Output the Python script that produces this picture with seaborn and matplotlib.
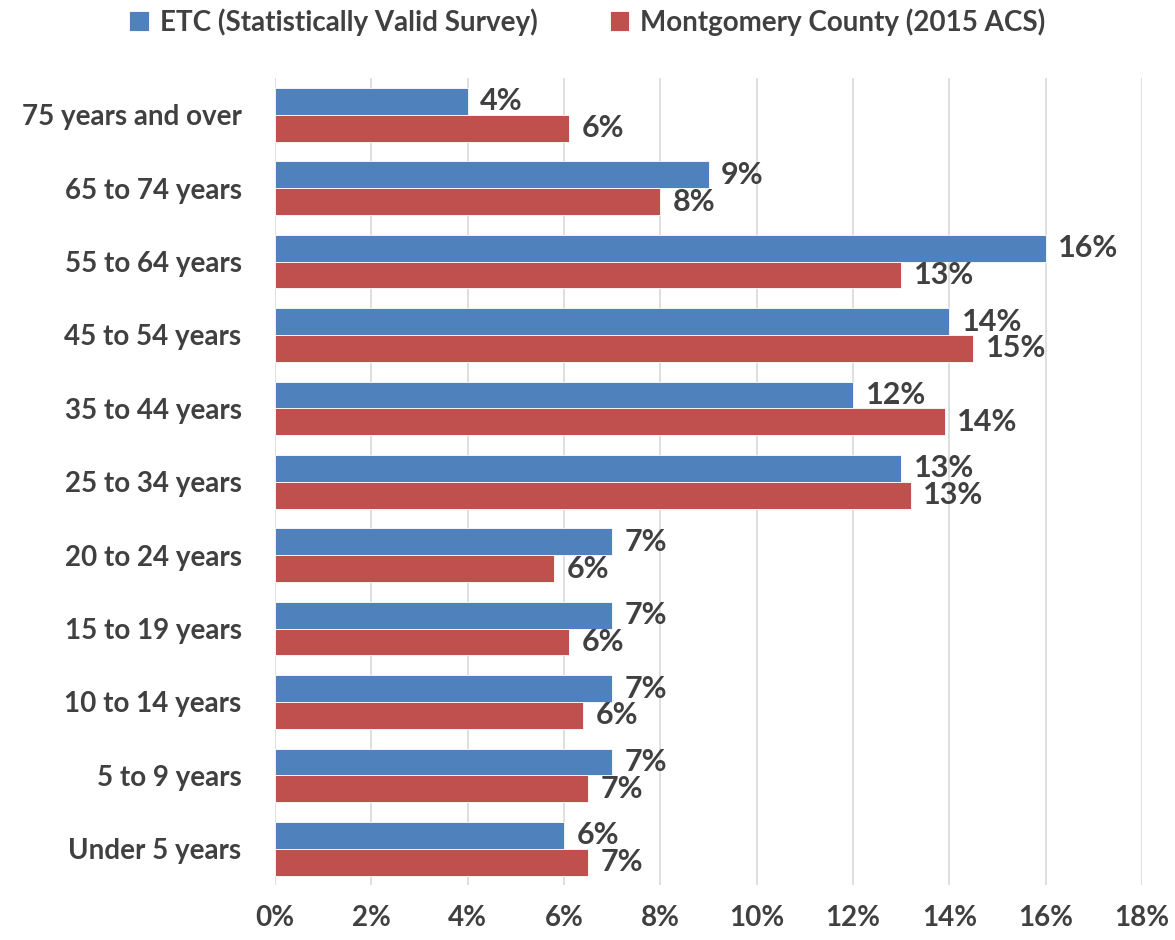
import pandas as pd
import matplotlib
matplotlib.use('Agg')
import matplotlib.pyplot as plt
import seaborn as sns
from matplotlib import font_manager

age_groups = ['75 years and over', '65 to 74 years', '55 to 64 years', '45 to 54 years',
              '35 to 44 years', '25 to 34 years', '20 to 24 years', '15 to 19 years',
              '10 to 14 years', '5 to 9 years', 'Under 5 years']
etc_values = [4.0, 9.0, 16.0, 14.0, 12.0, 13.0, 7.0, 7.0, 7.0, 7.0, 6.0]
county_values = [6.1, 8.0, 13.0, 14.5, 13.9, 13.2, 5.8, 6.1, 6.4, 6.5, 6.5]
etc_labels = ['4%', '9%', '16%', '14%', '12%', '13%', '7%', '7%', '7%', '7%', '6%']
county_labels = ['6%', '8%', '13%', '15%', '14%', '13%', '6%', '6%', '6%', '7%', '7%']
series_names = ['ETC (Statistically Valid Survey)', 'Montgomery County (2015 ACS)']
x_ticks = [0, 2, 4, 6, 8, 10, 12, 14, 16, 18]

df = pd.DataFrame({
    'Age': age_groups * 2,
    'Share': etc_values + county_values,
    'Source': [series_names[0]] * len(age_groups) + [series_names[1]] * len(age_groups),
})

sns.set_theme(style="white")
names = {f.name for f in font_manager.fontManager.ttflist}
FONT, FS = 'DejaVu Sans', 16
for cand, size in [('Liberation Sans Narrow', 21), ('Lato', 20), ('Roboto', 19)]:
    if cand in names:
        FONT, FS = cand, size
        break
plt.rcParams['font.family'] = [FONT, 'DejaVu Sans']
TEXT = '#404040'

fig = plt.figure(figsize=(11.75, 9.4), dpi=100)
ax = fig.add_axes([0.234, 0.058, 0.738, 0.859])
sns.barplot(data=df, y='Age', x='Share', hue='Source', order=age_groups,
            hue_order=series_names, palette=['#4F81BD', '#C0504D'], saturation=1,
            width=0.73, gap=0, orient='h', ax=ax, edgecolor='white', linewidth=0.6)

for cont, labs in zip(ax.containers, [etc_labels, county_labels]):
    ax.bar_label(cont, labels=labs, padding=9, fontsize=FS + 2, fontweight='bold', color=TEXT)

ax.set_xlim(0, 18)
ax.set_ylim(10.5, -0.5)
ax.set_xticks(x_ticks)
ax.set_xticklabels([f'{t}%' for t in x_ticks])
ax.set_xlabel('')
ax.set_ylabel('')
ax.xaxis.grid(True, color='#D9D9D9', linewidth=1.2)
ax.yaxis.grid(False)
ax.set_axisbelow(True)
for s in ax.spines.values():
    s.set_visible(False)
ax.tick_params(axis='both', length=0, labelsize=FS, labelcolor=TEXT)
ax.tick_params(axis='x', pad=14)
ax.tick_params(axis='y', pad=24)
for lab in ax.get_xticklabels() + ax.get_yticklabels():
    lab.set_fontweight('bold')

handles, labels = ax.get_legend_handles_labels()
ax.get_legend().remove()
fig.legend(handles, labels, loc='upper center', bbox_to_anchor=(0.5, 1.018), ncol=2,
           frameon=False, handlelength=0.7, handleheight=0.7, handletextpad=0.4,
           columnspacing=2.6, prop={'family': FONT, 'size': FS, 'weight': 'bold'},
           labelcolor=TEXT)

fig.savefig('out.png', dpi=100)
